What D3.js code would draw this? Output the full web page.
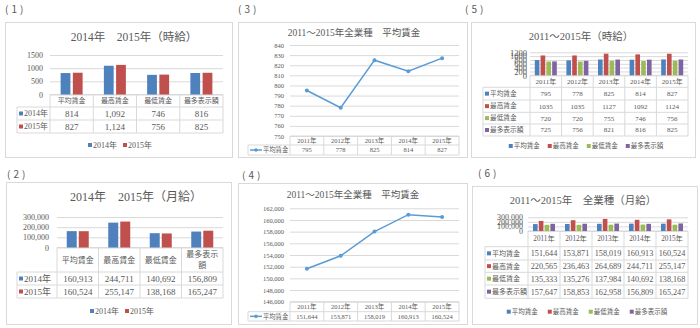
<!DOCTYPE html>
<html>
<head>
<meta charset="utf-8">
<script src="https://cdn.jsdelivr.net/npm/d3@7"></script>
<style>
  body { margin: 0; background: #fff; }
  svg { display: block; }
  text { font-family: "Liberation Serif", "Noto Sans CJK JP", serif; fill: #595959; }
</style>
</head>
<body>
<div id="chart"></div>
<script>
// ---- data ----
var items = ["平均賃金", "最高賃金", "最低賃金", "最多表示額"];
var hourly2014 = [814, 1092, 746, 816];
var hourly2015 = [827, 1124, 756, 825];
var monthly2014 = [160913, 244711, 140692, 156809];
var monthly2015 = [160524, 255147, 138168, 165247];

var years = ["2011年", "2012年", "2013年", "2014年", "2015年"];
var hourlyAvg = [795, 778, 825, 814, 827];
var hourlyMax = [1035, 1035, 1127, 1092, 1124];
var hourlyMin = [720, 720, 755, 746, 756];
var hourlyMode = [725, 756, 821, 816, 825];
var monthlyAvg = [151644, 153871, 158019, 160913, 160524];
var monthlyMax = [220565, 236463, 264689, 244711, 255147];
var monthlyMin = [135333, 135276, 137984, 140692, 138168];
var monthlyMode = [157647, 158853, 162958, 156809, 165247];

var BLUE = "#4F81BD", RED = "#C0504D", GREEN = "#9BBB59", PURPLE = "#8064A2";
var LINE = "#5B9BD5", GRID = "#D9D9D9";

var svg = d3.select("#chart").append("svg")
  .attr("width", 700)
  .attr("height", 328);

function addText(x, y, str, size, anchor) {
  return svg.append("text")
    .attr("x", x)
    .attr("y", y)
    .attr("dy", "0.35em")
    .attr("text-anchor", anchor || "middle")
    .style("font-size", size + "px")
    .text(str);
}

function hline(x0, x1, y) {
  svg.append("line").attr("x1", x0).attr("x2", x1).attr("y1", y).attr("y2", y)
    .attr("stroke", GRID).attr("stroke-width", 1);
}
function vline(x, y0, y1) {
  svg.append("line").attr("x1", x).attr("x2", x).attr("y1", y0).attr("y2", y1)
    .attr("stroke", GRID).attr("stroke-width", 1);
}

// panel number labels
function panelLabel(str, x, y) {
  svg.append("text").attr("x", x).attr("y", y).attr("dy", "0.35em")
    .style("font-family", "'Noto Sans CJK JP'")
    .style("font-size", "10px")
    .style("letter-spacing", "3px")
    .attr("fill", "#404040")
    .text(str);
}

// common frame, title, y axis with gridlines, table grid
function base(c) {
  svg.append("rect")
    .attr("x", c.box.x + 0.5).attr("y", c.box.y + 0.5)
    .attr("width", c.box.w).attr("height", c.box.h)
    .attr("fill", "#fff").attr("stroke", GRID);

  addText(c.tx, c.ty, c.title, c.ts);

  var y = d3.scaleLinear().domain(c.yDomain).range([c.y0, c.y1]);
  var x = d3.scaleBand().domain(c.cats).range([c.px0, c.px1]);

  var ag = svg.append("g")
    .attr("transform", "translate(" + c.px0 + ",0)")
    .call(d3.axisLeft(y)
      .tickValues(d3.range(c.yDomain[0], c.yDomain[1] + 1, c.step))
      .tickSize(-(c.px1 - c.px0))
      .tickPadding(c.tickPad)
      .tickFormat(c.tickFmt));
  ag.select(".domain").remove();
  ag.selectAll(".tick line").attr("stroke", GRID);
  ag.selectAll(".tick text").style("font-size", c.tickSize + "px");

  // table grid
  var last = c.rows[c.rows.length - 1];
  hline(c.px0, c.px1, c.y0);
  hline(c.tableLeft, c.px1, c.hb);
  c.rows.forEach(function(r) { hline(c.tableLeft, c.px1, r); });
  vline(c.tableLeft, c.hb, last);
  c.cats.forEach(function(d) { vline(x(d), c.y0, last); });
  vline(c.px1, c.y0, last);

  // category headers
  c.cats.forEach(function(d) {
    var cx = x(d) + x.bandwidth() / 2;
    var cy = (c.y0 + c.hb) / 2;
    if (c.wrap && d.length > c.wrap) {
      addText(cx, cy - c.lineH / 2, d.slice(0, c.wrap), c.headSize);
      addText(cx, cy + c.lineH / 2, d.slice(c.wrap), c.headSize);
    } else {
      addText(cx, cy, d, c.headSize);
    }
  });

  // value rows
  c.series.forEach(function(s, i) {
    var top = i === 0 ? c.hb : c.rows[i - 1];
    var cy = (top + c.rows[i]) / 2;
    s.values.forEach(function(v, j) {
      addText(x(c.cats[j]) + x.bandwidth() / 2, cy, c.valFmt(v), c.valSize);
    });
    if (c.line) {
      svg.append("line")
        .attr("x1", c.tableLeft + 2).attr("x2", c.tableLeft + 14)
        .attr("y1", cy).attr("y2", cy)
        .attr("stroke", s.color).attr("stroke-width", 1.5);
      svg.append("circle").attr("cx", c.tableLeft + 8).attr("cy", cy).attr("r", 1.8)
        .attr("fill", s.color);
      addText(c.tableLeft + 15, cy, s.name, c.keySize, "start");
    } else {
      svg.append("rect")
        .attr("x", c.tableLeft + 2).attr("y", cy - 2)
        .attr("width", 4).attr("height", 4)
        .attr("fill", s.color);
      addText(c.tableLeft + 7, cy, s.name, c.keySize, "start");
    }
  });

  return { x: x, y: y };
}

function barPanel(c) {
  var sc = base(c);
  var x = sc.x, y = sc.y;
  var inner = d3.scaleBand()
    .domain(c.series.map(function(s) { return s.name; }))
    .range([(x.bandwidth() - c.groupW) / 2, (x.bandwidth() + c.groupW) / 2])
    .paddingInner(c.pad);

  c.series.forEach(function(s) {
    svg.append("g").selectAll("rect")
      .data(s.values)
      .enter()
      .append("rect")
      .attr("x", function(d, j) { return x(c.cats[j]) + inner(s.name); })
      .attr("y", function(d) { return y(d); })
      .attr("width", inner.bandwidth())
      .attr("height", function(d) { return y(c.yDomain[0]) - y(d); })
      .attr("fill", s.color);
  });

  // bottom legend
  var lg = svg.append("g");
  var cursor = 0;
  c.series.forEach(function(s, i) {
    lg.append("rect").attr("x", cursor).attr("y", c.ly - 2)
      .attr("width", 4).attr("height", 4).attr("fill", s.color);
    var t = lg.append("text").attr("x", cursor + 5).attr("y", c.ly).attr("dy", "0.35em")
      .style("font-size", c.lgSize + "px").text(s.name);
    cursor += 5 + t.node().getComputedTextLength() + c.lgGap;
  });
  var total = cursor - c.lgGap;
  lg.attr("transform", "translate(" + (c.lx - total / 2) + ",0)");
}

function linePanel(c) {
  c.line = true;
  var sc = base(c);
  var x = sc.x, y = sc.y;
  var s = c.series[0];
  var pts = s.values.map(function(v, j) {
    return [x(c.cats[j]) + x.bandwidth() / 2, y(v)];
  });
  svg.append("path")
    .attr("d", d3.line()(pts))
    .attr("fill", "none")
    .attr("stroke", s.color)
    .attr("stroke-width", 1.5);
  svg.append("g").selectAll("circle")
    .data(pts)
    .enter()
    .append("circle")
    .attr("cx", function(d) { return d[0]; })
    .attr("cy", function(d) { return d[1]; })
    .attr("r", 2)
    .attr("fill", s.color);
}

var comma = d3.format(",");
var plain = d3.format("d");

// (1) hourly 2014 / 2015
panelLabel("(1)", 5, 9);
barPanel({
  box: { x: 5, y: 22, w: 227, h: 135 },
  title: "2014年　2015年（時給）", tx: 134, ty: 37, ts: 11.5,
  cats: items,
  series: [{ name: "2014年", values: hourly2014, color: BLUE },
           { name: "2015年", values: hourly2015, color: RED }],
  yDomain: [0, 1500], step: 500, y0: 94.5, y1: 55, px0: 50, px1: 223,
  tickPad: 7, tickSize: 8, tickFmt: plain,
  tableLeft: 17, hb: 107, rows: [120, 133],
  headSize: 7, valSize: 9, keySize: 8, valFmt: comma,
  groupW: 22, pad: 0.2,
  lx: 120, ly: 145, lgSize: 8, lgGap: 6
});

// (2) monthly 2014 / 2015
panelLabel("(2)", 7, 174);
barPanel({
  box: { x: 6, y: 182, w: 225, h: 142 },
  title: "2014年　2015年（月給）", tx: 136, ty: 197, ts: 12,
  cats: items,
  series: [{ name: "2014年", values: monthly2014, color: BLUE },
           { name: "2015年", values: monthly2015, color: RED }],
  yDomain: [0, 300000], step: 100000, y0: 247.5, y1: 217, px0: 57, px1: 223,
  tickPad: 8, tickSize: 8, tickFmt: comma,
  tableLeft: 17, hb: 272, rows: [285, 298],
  headSize: 8, valSize: 9, keySize: 9, valFmt: comma, wrap: 4, lineH: 11,
  groupW: 22, pad: 0.17,
  lx: 122, ly: 311, lgSize: 8, lgGap: 6
});

// (3) hourly average 2011-2015
panelLabel("(3)", 238, 9);
linePanel({
  box: { x: 238, y: 22, w: 229, h: 135 },
  title: "2011～2015年全業種　平均賃金", tx: 354, ty: 33, ts: 9.5,
  cats: years,
  series: [{ name: "平均賃金", values: hourlyAvg, color: LINE }],
  yDomain: [750, 840], step: 10, y0: 136, y1: 45, px0: 290, px1: 459,
  tickPad: 6, tickSize: 6.5, tickFmt: plain,
  tableLeft: 248, hb: 145, rows: [155],
  headSize: 6.5, valSize: 6.5, keySize: 6.3, valFmt: plain
});

// (4) monthly average 2011-2015
panelLabel("(4)", 242, 175);
linePanel({
  box: { x: 238, y: 183, w: 229, h: 141 },
  title: "2011～2015年全業種　平均賃金", tx: 353, ty: 195, ts: 9.5,
  cats: years,
  series: [{ name: "平均賃金", values: monthlyAvg, color: LINE }],
  yDomain: [146000, 162000], step: 2000, y0: 301.7, y1: 208.3, px0: 290, px1: 459,
  tickPad: 6, tickSize: 6.5, tickFmt: comma,
  tableLeft: 248, hb: 311.7, rows: [321],
  headSize: 6.5, valSize: 6.5, keySize: 6.3, valFmt: comma
});

// (5) hourly 2011-2015, four measures
panelLabel("(5)", 465, 9);
barPanel({
  box: { x: 471, y: 22, w: 224, h: 135 },
  title: "2011～2015年（時給）", tx: 581, ty: 36, ts: 10.5,
  cats: years,
  series: [{ name: "平均賃金", values: hourlyAvg, color: BLUE },
           { name: "最高賃金", values: hourlyMax, color: RED },
           { name: "最低賃金", values: hourlyMin, color: GREEN },
           { name: "最多表示額", values: hourlyMode, color: PURPLE }],
  yDomain: [0, 1200], step: 200, y0: 75.3, y1: 52.3, px0: 530, px1: 688,
  tickPad: 3, tickSize: 8.5, tickFmt: plain,
  tableLeft: 483, hb: 87.3, rows: [100, 112.3, 124, 136],
  headSize: 7, valSize: 7, keySize: 6.7, valFmt: plain,
  groupW: 22, pad: 0.2,
  lx: 586, ly: 146, lgSize: 6.5, lgGap: 8
});

// (6) monthly 2011-2015, four measures
panelLabel("(6)", 478, 173);
barPanel({
  box: { x: 472, y: 186, w: 225, h: 138 },
  title: "2011～2015年　全業種（月給）", tx: 583, ty: 200, ts: 10.5,
  cats: years,
  series: [{ name: "平均賃金", values: monthlyAvg, color: BLUE },
           { name: "最高賃金", values: monthlyMax, color: RED },
           { name: "最低賃金", values: monthlyMin, color: GREEN },
           { name: "最多表示額", values: monthlyMode, color: PURPLE }],
  yDomain: [0, 300000], step: 100000, y0: 231, y1: 217.3, px0: 528, px1: 688,
  tickPad: 5, tickSize: 8, tickFmt: comma,
  tableLeft: 485, hb: 246.7, rows: [260, 272.3, 285, 298.3],
  headSize: 7.2, valSize: 8.2, keySize: 7, valFmt: comma,
  groupW: 22, pad: 0.2,
  lx: 587, ly: 311.7, lgSize: 6.5, lgGap: 10
});
</script>
</body>
</html>
